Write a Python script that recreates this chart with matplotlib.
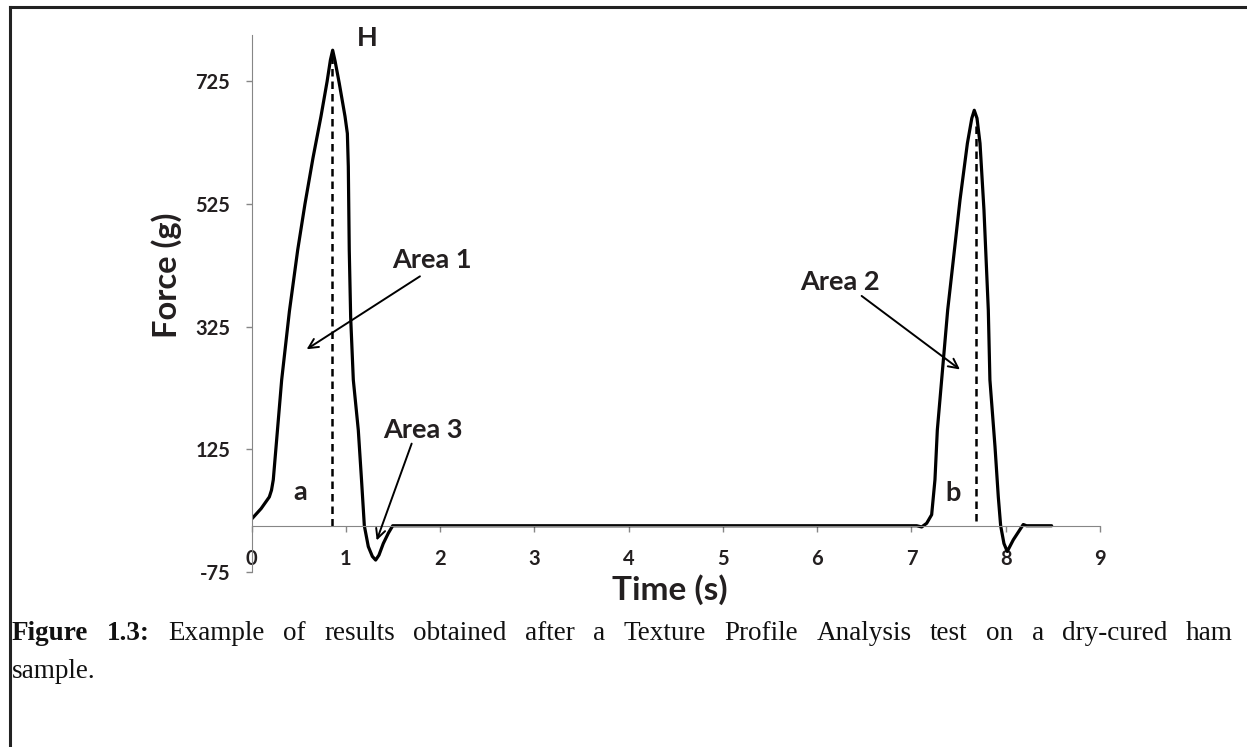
import numpy as np
import matplotlib.pyplot as plt

# curve (time s, force g)
time = [0.0, 0.1, 0.187, 0.21, 0.229, 0.27, 0.318, 0.40, 0.488, 0.565, 0.65, 0.735, 0.80, 0.835, 0.859,
        0.885, 0.929, 0.99, 1.015, 1.025, 1.035, 1.05, 1.078, 1.131, 1.165, 1.195, 1.237, 1.28, 1.315,
        1.35, 1.396, 1.45, 1.496, 3.0, 5.0, 7.055, 7.108, 7.161, 7.214, 7.249, 7.274, 7.32, 7.384,
        7.444, 7.515, 7.593, 7.64, 7.666, 7.695, 7.727, 7.769, 7.815, 7.832, 7.886, 7.921, 7.946,
        7.981, 8.016, 8.08, 8.186, 8.22, 8.487]
force = [11, 28, 47, 58, 75, 150, 238, 350, 450, 525, 600, 668, 725, 760, 776,
         758, 722, 668, 640, 586, 450, 340, 238, 156, 75, 0, -34, -50, -56,
         -48, -29, -12, 0, 0, 0, 0, -2, 4, 18, 75, 156, 238, 352,
         434, 532, 624, 665, 678, 665, 624, 515, 352, 238, 129, 47, 0,
         -29, -42, -23, 2, 0, 0]

peak_t = [0.855, 7.681]
peak_lo = [0, 7]
peak_hi = [768, 661]

yticks = [-75, 125, 325, 525, 725]
xticks = list(range(0, 10))

grey = '#868686'
ink = '#231f20'
plt.rcParams['font.family'] = ['Lato', 'DejaVu Sans']
plt.rcParams['axes.unicode_minus'] = False

fig = plt.figure(figsize=(12.47, 7.47), dpi=100)
W, H = 1247, 747

ax = fig.add_axes([251.7 / W, 1 - 571.7 / H, (1100 - 251.7) / W, (571.7 - 35.5) / H])
ax.plot(time, force, color='black', lw=2.3, solid_joinstyle='round', solid_capstyle='round')
for t, lo, hi in zip(peak_t, peak_lo, peak_hi):
    ax.plot([t, t], [lo, hi], color='black', lw=1.8, linestyle=(0, (3, 2)))

ax.set_xlim(0, 9)
ax.set_ylim(-75, 800)
for s in ['top', 'right']:
    ax.spines[s].set_visible(False)
ax.spines['left'].set_color(grey)
ax.spines['bottom'].set_color(grey)
ax.spines['bottom'].set_position(('data', 0))
ax.set_xticks(xticks)
ax.set_yticks(yticks)
ax.tick_params(axis='both', direction='out', length=4.5, width=1, color=grey,
               labelsize=14.5, labelcolor=ink)
ax.tick_params(axis='x', pad=12)
ax.tick_params(axis='y', pad=11)
for lab in ax.get_xticklabels() + ax.get_yticklabels():
    lab.set_fontweight('bold')

fs = 19.5
ax.text(1.223, 796, 'H', fontsize=fs, fontweight='bold', color=ink, ha='center', va='center', clip_on=False)
ax.text(0.512, 55, 'a', fontsize=fs, fontweight='bold', color=ink, ha='center', va='center')
ax.text(7.44, 53, 'b', fontsize=fs, fontweight='bold', color=ink, ha='center', va='center')

arr = dict(arrowstyle='->', lw=1.4, color='black', mutation_scale=17, shrinkA=0, shrinkB=0)
ax.text(1.91, 434, 'Area 1', fontsize=fs, fontweight='bold', color=ink, ha='center', va='center')
ax.annotate('', xy=(0.583, 288), xytext=(1.785, 407), arrowprops=arr)
ax.text(6.241, 398, 'Area 2', fontsize=fs, fontweight='bold', color=ink, ha='center', va='center')
ax.annotate('', xy=(7.514, 255), xytext=(6.471, 375), arrowprops=arr)
ax.text(1.817, 156, 'Area 3', fontsize=fs, fontweight='bold', color=ink, ha='center', va='center')
ax.annotate('', xy=(1.326, -24), xytext=(1.697, 134), arrowprops=arr)

fig.text(167 / W, 1 - 275 / H, 'Force (g)', rotation=90, fontsize=23.5, fontweight='bold',
         color=ink, ha='center', va='center')
fig.text(670 / W, 1 - 590 / H, 'Time (s)', fontsize=24, fontweight='bold',
         color=ink, ha='center', va='center')

# frame round the figure
fig.add_artist(plt.Line2D([9.7 / W, 1], [1 - 6.7 / H, 1 - 6.7 / H], color='#222222', lw=2.2))
fig.add_artist(plt.Line2D([9.7 / W, 9.7 / W], [0, 1 - 6.7 / H], color='#222222', lw=2.2))

# caption, justified between x=12 and x=1233
cap_words = ['Figure', '1.3:', 'Example', 'of', 'results', 'obtained', 'after', 'a', 'Texture',
             'Profile', 'Analysis', 'test', 'on', 'a', 'dry-cured', 'ham']
serif = ['Liberation Serif', 'DejaVu Serif']
cap_fs = 19.5
fig.canvas.draw()
r = fig.canvas.get_renderer()
items = []
for i, w in enumerate(cap_words):
    t = fig.text(0, 1 - 633 / H, w, fontsize=cap_fs, family=serif, va='center', color='#111111',
                 fontweight='bold' if i < 2 else 'normal')
    items.append((t, t.get_window_extent(r).width))
x0, x1 = 12, 1233
gap = (x1 - x0 - sum(wd for _, wd in items)) / (len(items) - 1)
x = x0
for t, wd in items:
    t.set_x(x / W)
    x += wd + gap
fig.text(12 / W, 1 - 672 / H, 'sample.', fontsize=cap_fs, family=serif, va='center', color='#111111')

fig.savefig('out.png', dpi=100)
